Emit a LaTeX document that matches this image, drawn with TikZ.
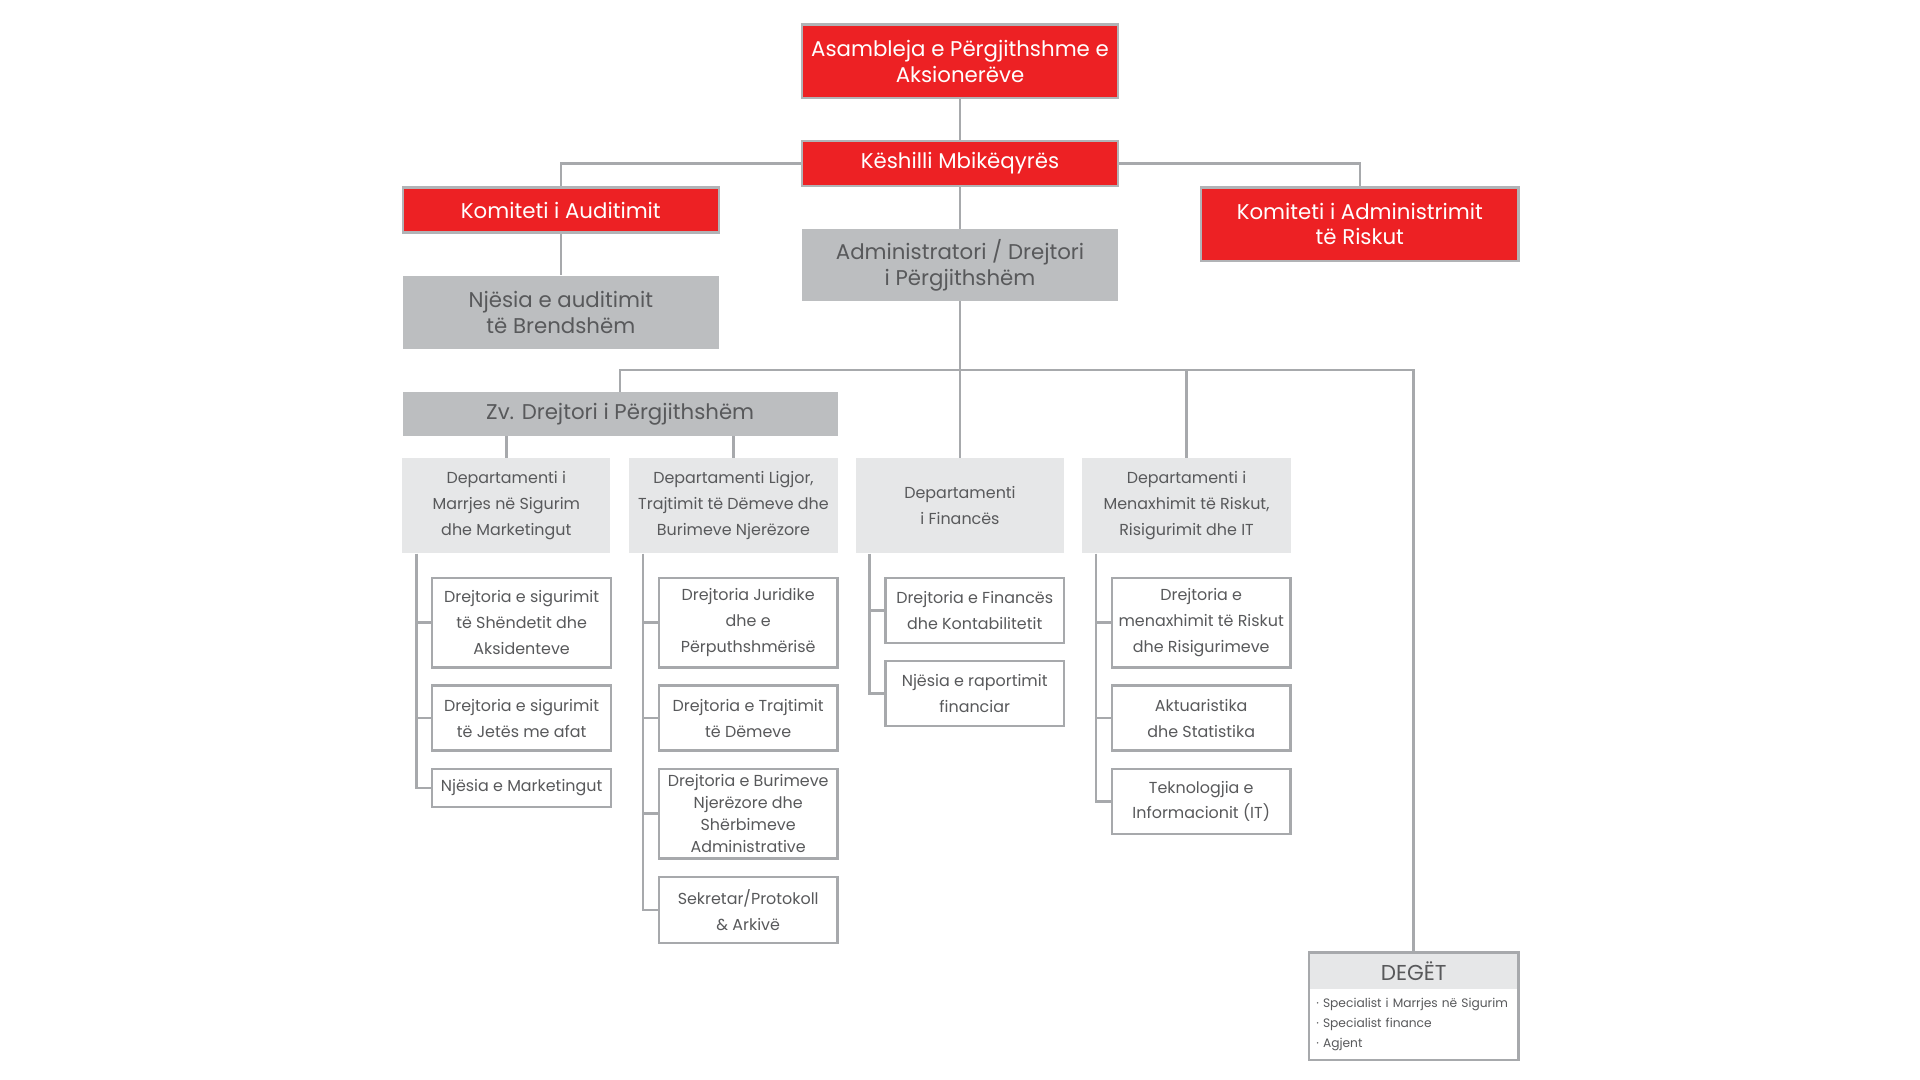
\documentclass[tikz,border=0pt]{standalone}
\usepackage{fontspec}
\setmainfont{Poppins}
\usepackage{tikz}
\usetikzlibrary{positioning}
\usetikzlibrary{calc}
\definecolor{okred}{HTML}{ED2124}
\definecolor{okframe}{HTML}{B1B3B6}
\definecolor{okgrey}{HTML}{BCBEC0}
\definecolor{oklight}{HTML}{E6E7E8}
\definecolor{okline}{HTML}{A7A9AC}
\definecolor{oktext}{HTML}{58595B}
\tikzset{
    redbox/.style={rectangle, fill=okred, draw=okframe, line width=2pt, text=white,
        inner sep=0pt, minimum width=258pt, align=center, font=\fontsize{17.4}{21}\selectfont},
    greybox/.style={rectangle, fill=okgrey, text=oktext, inner sep=0pt,
        minimum width=258pt, align=center, font=\fontsize{17.4}{21}\selectfont},
    deptbox/.style={rectangle, fill=oklight, text=oktext, inner sep=0pt,
        minimum width=170pt, minimum height=78pt, align=center, font=\fontsize{13}{21}\selectfont},
    unitbox/.style={rectangle, fill=white, draw=okline, line width=2pt, text=oktext, inner sep=0pt,
        minimum width=146pt, align=center, font=\fontsize{13}{21}\selectfont},
    conn/.style={draw=okline, line width=2pt},
}
\begin{document}
\begin{tikzpicture}[x=1pt, y=-1pt]
\useasboundingbox (0,0) rectangle (1568,882);
% top of the board
\node[redbox, minimum height=60pt] (asamb) at (784,50) {Asambleja e Përgjithshme e\\Aksionerëve};
\node[redbox, minimum height=37pt] (keshilli) at (784,133.5) {Këshilli Mbikëqyrës};
\node[redbox, minimum height=37pt] (kaudit) at (458,171.5) {Komiteti i Auditimit};
\node[redbox, minimum height=60pt, minimum width=259pt] (kriskut) at (1110.5,183) {Komiteti i Administrimit\\të Riskut};
\node[greybox, minimum height=60pt] (njaudit) at (458,255) {Njësia e auditimit\\të Brendshëm};
\node[greybox, minimum height=59pt] (admin) at (784,216.5) {Administratori / Drejtori\\i Përgjithshëm};
\node[greybox, minimum height=36pt, minimum width=355pt] (zvdrej) at (506.5,338) {Zv. Drejtori i Përgjithshëm};
\coordinate (bus) at (784,302);

% departments
\node[deptbox] (dmarr) at (413.5,413) {Departamenti i\\Marrjes në Sigurim\\dhe Marketingut};
\node[deptbox] (dligj) at (599,413) {Departamenti Ligjor,\\Trajtimit të Dëmeve dhe\\Burimeve Njerëzore};
\node[deptbox] (dfin) at (784,413) {Departamenti\\i Financës};
\node[deptbox] (drisk) at (969,413) {Departamenti i\\Menaxhimit të Riskut,\\Risigurimit dhe IT};

% units
\node[unitbox, minimum height=73pt] (shend) at (426,508.5) {Drejtoria e sigurimit\\të Shëndetit dhe\\Aksidenteve};
\node[unitbox, minimum height=53pt] (jetes) at (426,586.5) {Drejtoria e sigurimit\\të Jetës me afat};
\node[unitbox, minimum height=31pt] (market) at (426,643.5) {Njësia e Marketingut};
\node[unitbox, minimum height=73pt] (jurid) at (611,508.5) {Drejtoria Juridike\\dhe e\\Përputhshmërisë};
\node[unitbox, minimum height=53pt] (trajt) at (611,586.5) {Drejtoria e Trajtimit\\të Dëmeve};
\node[unitbox, minimum height=73pt, font=\fontsize{13}{18}\selectfont] (burim) at (611,664.5) {Drejtoria e Burimeve\\Njerëzore dhe\\Shërbimeve\\Administrative};
\node[unitbox, minimum height=54pt] (sekr) at (611,743) {Sekretar/Protokoll\\\& Arkivë};
\node[unitbox, minimum height=53pt] (kontab) at (796,498.5) {Drejtoria e Financës\\dhe Kontabilitetit};
\node[unitbox, minimum height=53pt] (raport) at (796,566.5) {Njësia e raportimit\\financiar};
\node[unitbox, minimum height=73pt] (menax) at (981,508.5) {Drejtoria e\\menaxhimit të Riskut\\dhe Risigurimeve};
\node[unitbox, minimum height=53pt] (aktuar) at (981,586.5) {Aktuaristika\\dhe Statistika};
\node[unitbox, minimum height=53pt] (teknol) at (981,654.5) {Teknologjia e\\Informacionit (IT)};

% branches
\node[rectangle, fill=oklight, text=oktext, inner sep=0pt, minimum width=171pt, minimum height=30pt,
    font=\fontsize{17.6}{20}\selectfont] (deget) at (1154.5,793) {DEGËT};
\node[rectangle, fill=white, text=oktext, inner sep=0pt, minimum width=171pt, minimum height=57pt,
    text width=159pt, align=left, font=\fontsize{10}{16.5}\selectfont, below=0pt of deget] (deglist)
    {· Specialist i Marrjes në Sigurim\\· Specialist finance\\· Agjent};
\draw[draw=okline, line width=2pt] (deget.north west) rectangle (deglist.south east);

% connectors
\draw[conn] (asamb) -- (keshilli);
\draw[conn] (keshilli.west) -| (kaudit.north);
\draw[conn] (keshilli.east) -| (kriskut.north);
\draw[conn] (kaudit) -- (njaudit);
\draw[conn] (keshilli) -- (admin);
\draw[conn] (admin) -- (bus);
\draw[conn] (zvdrej.north) |- (bus) -| (deget.north);
\draw[conn] (bus) -- (dfin.north);
\draw[conn] (drisk.north) -- (drisk.north |- bus);
\draw[conn] (dmarr.north) -- (dmarr.north |- zvdrej.south);
\draw[conn] (dligj.north) -- (dligj.north |- zvdrej.south);

% unit brackets
\draw[conn] ([xshift=-12pt]shend.west |- dmarr.south) |- (market.west);
\draw[conn] ([xshift=-12pt]jurid.west |- dligj.south) |- (sekr.west);
\draw[conn] ([xshift=-12pt]kontab.west |- dfin.south) |- (raport.west);
\draw[conn] ([xshift=-12pt]menax.west |- drisk.south) |- (teknol.west);
\foreach \u in {shend,jetes,jurid,trajt,burim,kontab,menax,aktuar}
    \draw[conn] (\u.west) -- ++(-12,0);
\end{tikzpicture}
\end{document}
